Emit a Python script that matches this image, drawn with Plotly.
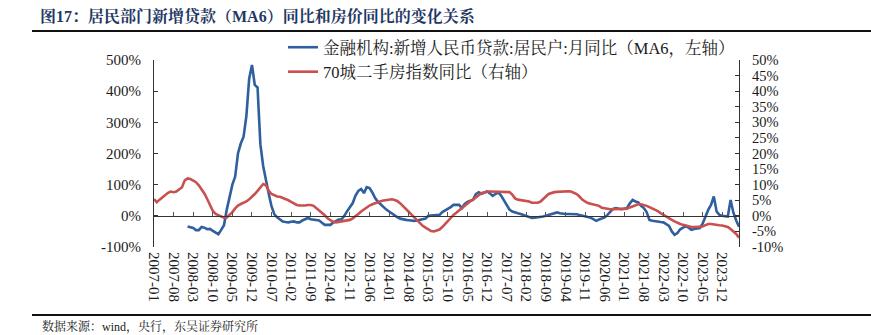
import pandas as pd
import plotly.graph_objects as go

# ---- data ----
months = [p.strftime("%Y-%m") for p in pd.period_range("2007-01", "2024-06", freq="M")]

# 金融机构:新增人民币贷款:居民户:月同比（MA6，左轴） (%), starts 2008-01
loan_yoy = [None] * 12 + [
    -34, -36, -39, -46, -46, -36, -38, -43, -42, -48, -55, -59,          # 2008
    -45, -30, 20, 60, 100, 126, 200, 232, 254, 320, 440, 484,            # 2009
    420, 412, 230, 160, 110, 70, 30, 5, -5, -12, -18, -20,               # 2010
    -21, -19, -18, -21, -21, -15, -10, -7, -11, -13, -14, -15,           # 2011
    -22, -29, -29, -29, -22, -18, -12, -11, 0, 15, 30, 41,               # 2012
    65, 80, 86, 73, 92, 89, 75, 57, 45, 36, 28, 20,                      # 2013
    14, 7, 0, -5, -9, -12, -13, -14, -16, -16, -15, -13,                 # 2014
    -13, -9, 0, 1, 2, 3, 3, 12, 17, 21, 28, 35,                          # 2015
    35, 35, 25, 38, 45, 49, 52, 70, 76, 71, 74, 78,                      # 2016
    72, 64, 70, 75, 65, 50, 36, 20, 14, 10, 8, 6,                        # 2017
    3, 0, -4, -7, -6, -5, -5, -2, 0, 3, 6, 9,                            # 2018
    11, 8, 6, 6, 6, 6, 6, 5, 3, 0, -1, -4,                               # 2019
    -6, -10, -16, -12, -8, -5, 3, 12, 22, 25, 22, 21,                    # 2020
    23, 25, 40, 51, 46, 43, 32, 25, 12, -13, -16, -18,                   # 2021
    -19, -20, -21, -26, -32, -50, -61, -55, -43, -38, -34, -38,          # 2022
    -45, -42, -40, -39, -25, -2, 19, 35, 62, 14, 3, 0,                   # 2023
    -1, -2, 51, 10, -15, -35,                                            # 2024
]

# 70城二手房指数同比（右轴） (%)
house_yoy = [
    5.4, 4.4, 5.2, 6.0, 6.6, 7.4, 7.8, 7.6, 7.8, 8.4, 9.2, 11.4,          # 2007
    12.0, 11.8, 11.4, 10.8, 9.8, 8.6, 7.2, 5.4, 3.6, 1.6, 0.6, 0.2,       # 2008
    0.0, -0.6, -0.5, 0.3, 1.2, 2.4, 3.3, 3.8, 4.1, 4.6, 5.3, 6.0,         # 2009
    7.0, 8.0, 9.0, 10.2, 9.8, 8.0, 7.0, 6.5, 6.2, 6.1, 5.8, 5.5,          # 2010
    5.0, 4.5, 4.0, 3.5, 3.3, 3.2, 3.3, 3.5, 3.5, 3.2, 2.5, 1.7,           # 2011
    1.0, 0.2, -0.8, -1.5, -1.9, -2.1, -1.9, -1.8, -1.6, -1.5, -1.3, -0.8, # 2012
    -0.2, 0.6, 1.4, 2.1, 2.8, 3.3, 3.7, 4.1, 4.4, 4.7, 4.9, 5.1,          # 2013
    5.3, 5.3, 5.1, 4.7, 4.0, 3.2, 2.3, 1.3, 0.4, -0.5, -1.6, -2.4,        # 2014
    -3.2, -3.8, -4.4, -4.9, -5.0, -4.8, -4.4, -3.6, -2.6, -1.5, -0.6, 0.3,# 2015
    1.0, 1.8, 2.6, 3.4, 4.1, 4.7, 5.2, 5.8, 6.6, 7.3, 7.6, 7.8,           # 2016
    7.8, 7.8, 7.8, 7.8, 7.8, 7.8, 7.8, 7.6, 6.8, 5.6, 5.2, 5.1,           # 2017
    5.0, 4.9, 4.6, 4.2, 4.1, 4.2, 4.5, 5.2, 6.2, 7.0, 7.4, 7.6,           # 2018
    7.7, 7.8, 7.8, 7.8, 7.9, 7.8, 7.5, 7.0, 6.2, 5.2, 4.6, 4.1,           # 2019
    3.9, 3.7, 3.5, 3.2, 2.6, 2.4, 2.2, 2.1, 2.1, 2.1, 2.1, 2.1,           # 2020
    2.1, 2.3, 2.7, 3.1, 3.4, 3.7, 3.7, 3.5, 3.2, 2.8, 2.4, 1.9,           # 2021
    1.5, 0.9, 0.3, -0.3, -0.9, -1.3, -1.8, -2.3, -2.6, -2.9, -3.2, -3.4,  # 2022
    -3.6, -3.6, -3.6, -3.5, -3.4, -3.0, -2.6, -2.6, -2.8, -2.9, -3.0, -3.1,# 2023
    -3.3, -3.6, -4.2, -5.0, -5.8, -7.0,                                   # 2024
]

loan_name = "金融机构:新增人民币贷款:居民户:月同比（MA6，左轴）"
house_name = "70城二手房指数同比（右轴）"
title_text = "图17：居民部门新增贷款（MA6）同比和房价同比的变化关系"
source_text = "数据来源：wind，央行，东吴证券研究所"

left_ticks = [-100, 0, 100, 200, 300, 400, 500]
left_labels = ["-100%", "0%", "100%", "200%", "300%", "400%", "500%"]
right_ticks = [-10, -5, 0, 5, 10, 15, 20, 25, 30, 35, 40, 45, 50]
right_labels = ["-10%", "-5%", "0%", "5%", "10%", "15%", "20%", "25%",
                "30%", "35%", "40%", "45%", "50%"]

# ---- figure ----
W, H = 871, 335
L, R, T, B = 154, 132, 60, 88
pw, ph = W - L - R, H - T - B

idx = list(range(len(months)))
tick_idx = idx[::7]
tick_txt = [months[i] for i in tick_idx]

BLUE = "#2f5f9d"
RED = "#c9504e"
FONT = "Liberation Serif, Noto Serif CJK SC, Noto Sans CJK SC, serif"

fig = go.Figure()
fig.add_trace(go.Scatter(x=idx, y=loan_yoy, name=loan_name, mode="lines",
                         line=dict(color=BLUE, width=2.6), yaxis="y", xaxis="x"))
fig.add_trace(go.Scatter(x=idx, y=house_yoy, name=house_name, mode="lines",
                         line=dict(color=RED, width=2.6), yaxis="y2", xaxis="x"))
# invisible carrier for the label axis
fig.add_trace(go.Scatter(x=idx, y=house_yoy, mode="lines", line=dict(width=0),
                         opacity=0, showlegend=False, hoverinfo="skip",
                         xaxis="x2", yaxis="y"))

xr = [0, len(months) - 1]

def px2paper_x(p):
    return (p - L) / pw

def px2paper_y(p):
    return (H - B - p) / ph

fig.update_layout(
    width=W, height=H,
    margin=dict(l=L, r=R, t=T, b=B, pad=0),
    paper_bgcolor="white", plot_bgcolor="white",
    font=dict(family=FONT, size=15, color="#1a1a1a"),
    showlegend=True,
    legend=dict(x=px2paper_x(283), y=px2paper_y(30), xanchor="left", yanchor="top",
                bgcolor="rgba(0,0,0,0)", font=dict(size=16.5, family=FONT),
                tracegroupgap=0, itemwidth=30),
    title=dict(text="<b>" + title_text + "</b>", x=40 / W, xanchor="left",
               y=1 - 16 / H, yanchor="middle",
               font=dict(size=16, color="#1f3864", family=FONT)),
    # x axis drawn on the zero line (line + ticks)
    xaxis=dict(range=xr, anchor="free", position=1 / 6, showline=True,
               linecolor="#333333", linewidth=1.2, ticks="inside", ticklen=4,
               tickcolor="#555555", tickvals=tick_idx, showticklabels=False,
               showgrid=False, zeroline=False),
    # label axis at bottom
    xaxis2=dict(range=xr, overlaying="x", anchor="y", side="bottom",
                showline=False, ticks="", tickvals=tick_idx, ticktext=tick_txt,
                tickangle=90, tickfont=dict(size=15, family=FONT),
                ticklabelstandoff=4, showgrid=False, zeroline=False),
    yaxis=dict(range=[-100, 500], tickvals=left_ticks, ticktext=left_labels,
               showline=True, linecolor="#333333", linewidth=1.2,
               ticks="inside", ticklen=4, tickcolor="#333333",
               tickfont=dict(size=15, family=FONT), ticklabelstandoff=9,
               showgrid=False, zeroline=False),
    yaxis2=dict(range=[-10, 50], tickvals=right_ticks, ticktext=right_labels,
                overlaying="y", side="right", anchor="x",
                showline=True, linecolor="#333333", linewidth=1.2,
                ticks="inside", ticklen=4, tickcolor="#333333",
                tickfont=dict(size=14.5, family=FONT), ticklabelstandoff=9,
                showgrid=False, zeroline=False),
    shapes=[
        dict(type="line", xref="paper", yref="paper",
             x0=px2paper_x(32), x1=px2paper_x(W), y0=px2paper_y(31), y1=px2paper_y(31),
             line=dict(color="#111111", width=2)),
        dict(type="line", xref="paper", yref="paper",
             x0=px2paper_x(32), x1=px2paper_x(W), y0=px2paper_y(315), y1=px2paper_y(315),
             line=dict(color="#111111", width=2)),
    ],
    annotations=[
        dict(text=source_text, xref="paper", yref="paper",
             x=px2paper_x(40), y=px2paper_y(317), xanchor="left", yanchor="top",
             showarrow=False, font=dict(size=12, family=FONT, color="#1a1a1a")),
    ],
)

fig.write_html("out.html")
